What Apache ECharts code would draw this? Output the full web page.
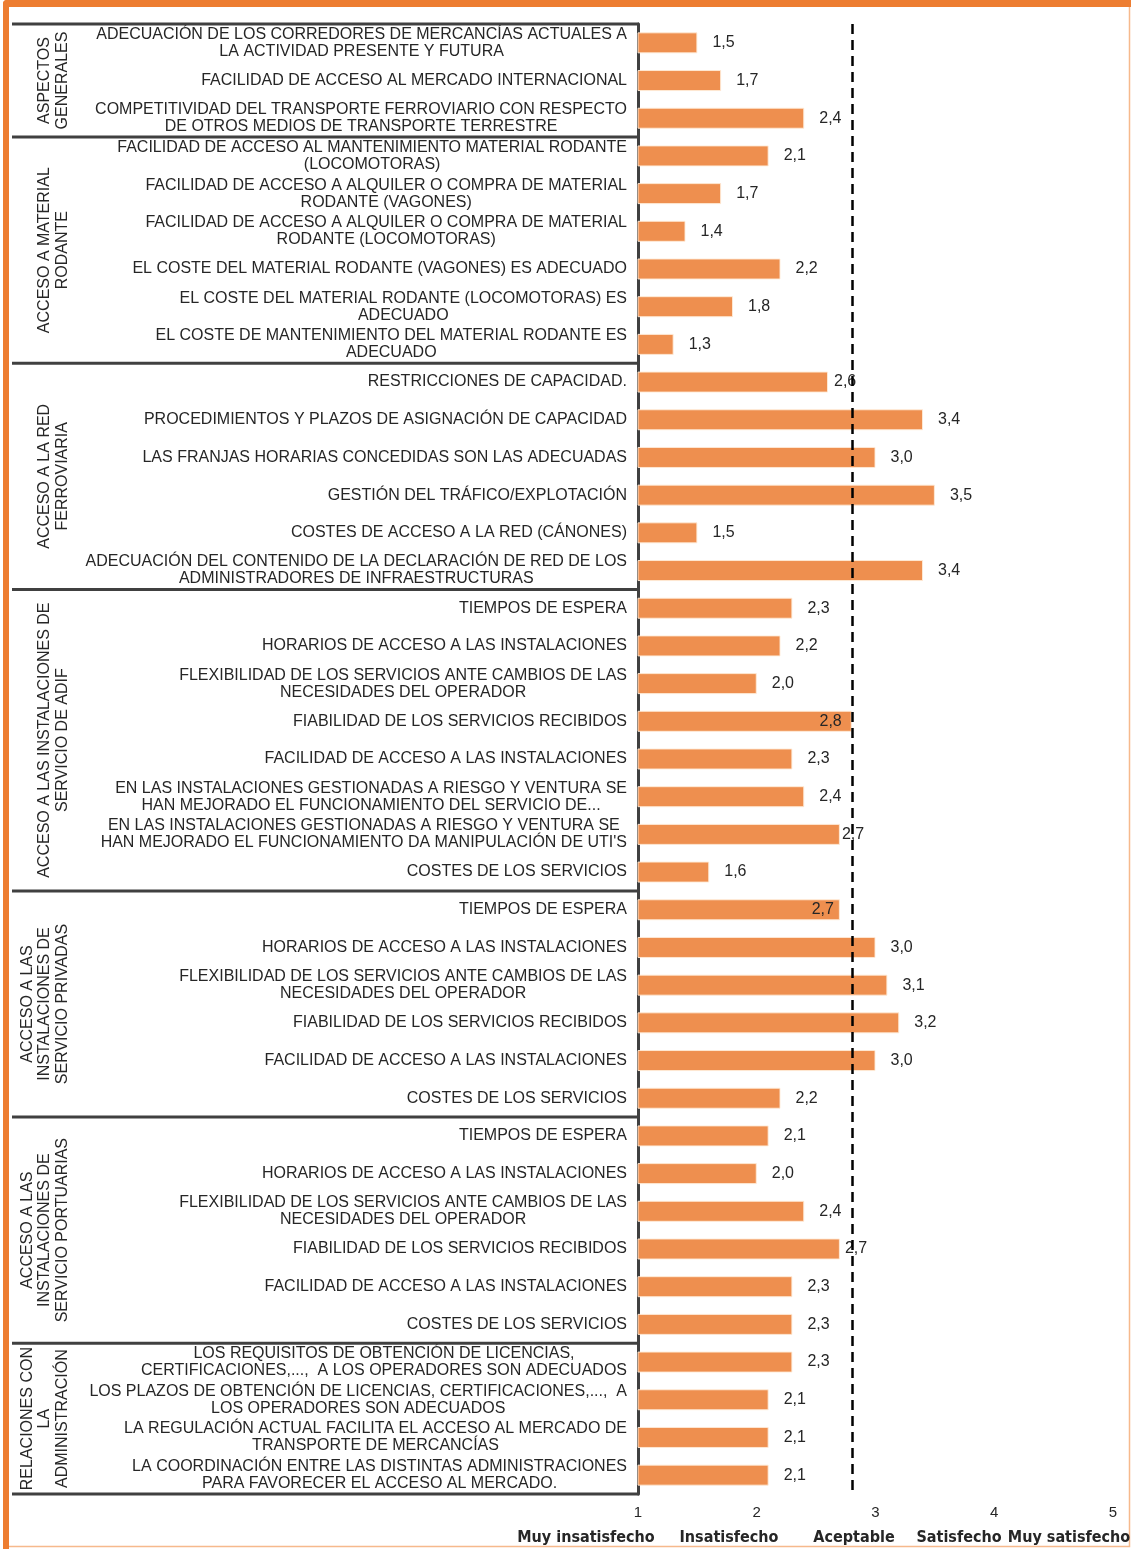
<!DOCTYPE html>
<html>
<head>
<meta charset="utf-8">
<script src="https://cdn.jsdelivr.net/npm/echarts@6/dist/echarts.min.js"></script>
<style>
  html, body { margin: 0; padding: 0; background: #fff; }
  #chart { width: 1131px; height: 1549px; }
</style>
</head>
<body>
<div id="chart"></div>
<script>
// Survey items, top to bottom
const categories = [
  'ADECUACIÓN DE LOS CORREDORES DE MERCANCÍAS ACTUALES A\nLA ACTIVIDAD PRESENTE Y FUTURA',
  'FACILIDAD DE ACCESO AL MERCADO INTERNACIONAL',
  'COMPETITIVIDAD DEL TRANSPORTE FERROVIARIO CON RESPECTO\nDE OTROS MEDIOS DE TRANSPORTE TERRESTRE',
  'FACILIDAD DE ACCESO AL MANTENIMIENTO MATERIAL RODANTE\n(LOCOMOTORAS)',
  'FACILIDAD DE ACCESO A ALQUILER O COMPRA DE MATERIAL\nRODANTE (VAGONES)',
  'FACILIDAD DE ACCESO A ALQUILER O COMPRA DE MATERIAL\nRODANTE (LOCOMOTORAS)',
  'EL COSTE DEL MATERIAL RODANTE (VAGONES) ES ADECUADO',
  'EL COSTE DEL MATERIAL RODANTE (LOCOMOTORAS) ES\nADECUADO',
  'EL COSTE DE MANTENIMIENTO DEL MATERIAL RODANTE ES\nADECUADO',
  'RESTRICCIONES DE CAPACIDAD.',
  'PROCEDIMIENTOS Y PLAZOS DE ASIGNACIÓN DE CAPACIDAD',
  'LAS FRANJAS HORARIAS CONCEDIDAS SON LAS ADECUADAS',
  'GESTIÓN DEL TRÁFICO/EXPLOTACIÓN',
  'COSTES DE ACCESO A LA RED (CÁNONES)',
  'ADECUACIÓN DEL CONTENIDO DE LA DECLARACIÓN DE RED DE LOS\nADMINISTRADORES DE INFRAESTRUCTURAS',
  'TIEMPOS DE ESPERA',
  'HORARIOS DE ACCESO A LAS INSTALACIONES',
  'FLEXIBILIDAD DE LOS SERVICIOS ANTE CAMBIOS DE LAS\nNECESIDADES DEL OPERADOR',
  'FIABILIDAD DE LOS SERVICIOS RECIBIDOS',
  'FACILIDAD DE ACCESO A LAS INSTALACIONES',
  'EN LAS INSTALACIONES GESTIONADAS A RIESGO Y VENTURA SE\nHAN MEJORADO EL FUNCIONAMIENTO DEL SERVICIO DE...',
  'EN LAS INSTALACIONES GESTIONADAS A RIESGO Y VENTURA SE\nHAN MEJORADO EL FUNCIONAMIENTO DA MANIPULACIÓN DE UTI\'S',
  'COSTES DE LOS SERVICIOS',
  'TIEMPOS DE ESPERA',
  'HORARIOS DE ACCESO A LAS INSTALACIONES',
  'FLEXIBILIDAD DE LOS SERVICIOS ANTE CAMBIOS DE LAS\nNECESIDADES DEL OPERADOR',
  'FIABILIDAD DE LOS SERVICIOS RECIBIDOS',
  'FACILIDAD DE ACCESO A LAS INSTALACIONES',
  'COSTES DE LOS SERVICIOS',
  'TIEMPOS DE ESPERA',
  'HORARIOS DE ACCESO A LAS INSTALACIONES',
  'FLEXIBILIDAD DE LOS SERVICIOS ANTE CAMBIOS DE LAS\nNECESIDADES DEL OPERADOR',
  'FIABILIDAD DE LOS SERVICIOS RECIBIDOS',
  'FACILIDAD DE ACCESO A LAS INSTALACIONES',
  'COSTES DE LOS SERVICIOS',
  'LOS REQUISITOS DE OBTENCIÓN DE LICENCIAS,\nCERTIFICACIONES,...,  A LOS OPERADORES SON ADECUADOS',
  'LOS PLAZOS DE OBTENCIÓN DE LICENCIAS, CERTIFICACIONES,...,  A\nLOS OPERADORES SON ADECUADOS',
  'LA REGULACIÓN ACTUAL FACILITA EL ACCESO AL MERCADO DE\nTRANSPORTE DE MERCANCÍAS',
  'LA COORDINACIÓN ENTRE LAS DISTINTAS ADMINISTRACIONES\nPARA FAVORECER EL ACCESO AL MERCADO.'
];

// Average satisfaction score per item (1 = muy insatisfecho ... 5 = muy satisfecho)
const scores = [
  1.5, 1.7, 2.4,
  2.1, 1.7, 1.4, 2.2, 1.8, 1.3,
  2.6, 3.4, 3.0, 3.5, 1.5, 3.4,
  2.3, 2.2, 2.0, 2.8, 2.3, 2.4, 2.7, 1.6,
  2.7, 3.0, 3.1, 3.2, 3.0, 2.2,
  2.1, 2.0, 2.4, 2.7, 2.3, 2.3,
  2.3, 2.1, 2.1, 2.1
];

// Thematic blocks and how many consecutive items each one holds
const groupNames = [
  'ASPECTOS\nGENERALES',
  'ACCESO A MATERIAL\nRODANTE',
  'ACCESO A LA RED\nFERROVIARIA',
  'ACCESO A LAS INSTALACIONES DE\nSERVICIO DE ADIF',
  'ACCESO A LAS\nINSTALACIONES DE\nSERVICIO PRIVADAS',
  'ACCESO A LAS\nINSTALACIONES DE\nSERVICIO PORTUARIAS',
  'RELACIONES CON\nLA\nADMINISTRACIÓN'
];
const groupSizes = [3, 6, 6, 8, 6, 6, 4];

// Verbal meaning of the scale
const scaleNames = ['Muy insatisfecho', 'Insatisfecho', 'Aceptable', 'Satisfecho', 'Muy satisfecho'];

// Reference level (dashed line)
const referenceLevel = 2.8;

// ---- styling ----
const FONT = '"Liberation Sans", Arial, sans-serif';
const TEXT = '#262626';
const FRAME = '#404040';
const BAR = '#EE8F4F';

// a few value labels are nudged so they do not collide with the reference line
const labelTweaks = {
  9:  { distance: 6 },
  18: { position: 'insideRight', distance: 10 },
  21: { distance: 2 },
  23: { position: 'insideRight', distance: 6 },
  32: { distance: 5 }
};

const fmt = v => v.toFixed(1).replace('.', ',');

const seriesData = scores.map((v, i) => {
  const item = { value: v };
  if (labelTweaks[i]) item.label = labelTweaks[i];
  return item;
});

const chart = echarts.init(document.getElementById('chart'), null, { renderer: 'canvas' });

chart.setOption({
  backgroundColor: '#fff',
  animation: false,
  grid: { left: 638, right: 18, top: 24, bottom: 55, containLabel: false },
  xAxis: {
    type: 'value',
    min: 1, max: 5, interval: 1,
    axisLine: { show: false },
    axisTick: { show: false },
    splitLine: { show: false },
    axisLabel: { fontFamily: FONT, fontSize: 15, color: TEXT, margin: 11 }
  },
  yAxis: {
    type: 'category',
    inverse: true,
    data: categories,
    axisLine: { show: true, lineStyle: { color: FRAME, width: 3 } },
    axisTick: { show: false },
    splitLine: { show: false },
    axisLabel: {
      interval: 0,
      margin: 11,
      align: 'right',
      formatter: v => v.split('\n').map(l => '{c|' + l + '}').join('\n'),
      rich: {
        c: { align: 'center', fontFamily: FONT, fontSize: 16, color: TEXT, lineHeight: 17 }
      }
    }
  },
  series: [{
    type: 'bar',
    data: seriesData,
    barWidth: 21,
    itemStyle: { color: BAR, borderColor: 'rgba(255,235,215,0.9)', borderWidth: 1 },
    label: {
      show: true,
      position: 'right',
      distance: 15,
      fontFamily: FONT,
      fontSize: 16,
      color: TEXT,
      formatter: p => fmt(p.value)
    },
    markLine: {
      silent: true,
      symbol: 'none',
      label: { show: false },
      lineStyle: { color: '#000', type: [10, 6], width: 2.5 },
      data: [{ xAxis: referenceLevel }]
    }
  }]
});

// ---- block frames, block titles and the verbal scale ----
function drawDecorations() {
  const centerOf = i => chart.convertToPixel({ yAxisIndex: 0 }, i);
  const band = centerOf(1) - centerOf(0);
  const graphics = [];

  // page frame
  graphics.push({
    type: 'rect', silent: true, z: 0,
    shape: { x: 6, y: 4, width: 1123.5, height: 1542.5 },
    style: { fill: null, stroke: '#F6B98C', lineWidth: 1.5 }
  });
  graphics.push({
    type: 'rect', silent: true, z: 1,
    shape: { x: 3, y: 0, width: 1128, height: 7, r: [4, 0, 0, 0] },
    style: { fill: '#ED7D31' }
  });
  graphics.push({
    type: 'rect', silent: true, z: 1,
    shape: { x: 3, y: 0, width: 6, height: 1549, r: [4, 0, 0, 0] },
    style: { fill: '#ED7D31' }
  });

  // block separators and titles
  let start = 0;
  const boundaries = [centerOf(0) - band / 2];
  groupSizes.forEach((n, g) => {
    const top = centerOf(start) - band / 2;
    const bottom = centerOf(start + n - 1) + band / 2;
    boundaries.push(bottom);
    graphics.push({
      type: 'text', silent: true,
      x: 71, y: (top + bottom) / 2,
      rotation: Math.PI / 2,
      style: {
        text: groupNames[g],
        font: '16px ' + FONT,
        fill: TEXT,
        align: 'center',
        verticalAlign: 'bottom',
        lineHeight: 17.5
      }
    });
    start += n;
  });
  boundaries.forEach(y => {
    graphics.push({
      type: 'line', silent: true, z: 5,
      shape: { x1: 12, y1: y, x2: 639, y2: y },
      style: { stroke: FRAME, lineWidth: 3 }
    });
  });

  // verbal scale under the axis
  const scaleX = [586, 729, 854, 959, 1069];
  scaleNames.forEach((s, i) => {
    graphics.push({
      type: 'text', silent: true,
      x: scaleX[i], y: 1538,
      style: {
        text: s,
        font: 'bold 16px "Liberation Sans Narrow", "DejaVu Sans Condensed", Arial, sans-serif',
        fill: TEXT,
        align: 'center',
        verticalAlign: 'middle'
      }
    });
  });

  chart.setOption({ graphic: graphics });
}
drawDecorations();
</script>
</body>
</html>
